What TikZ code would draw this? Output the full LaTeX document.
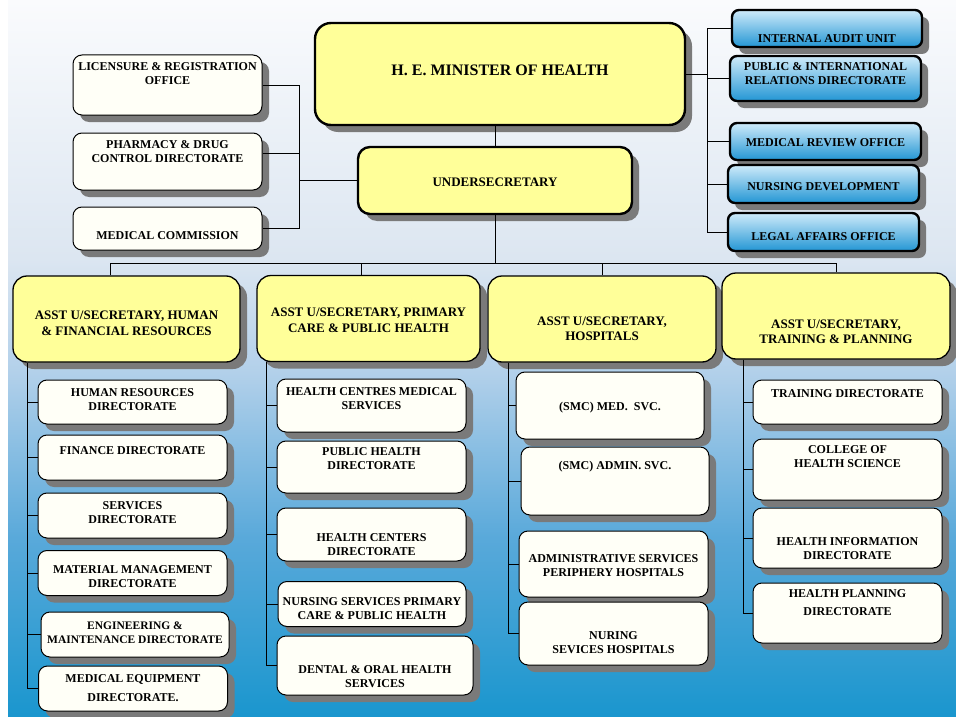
\documentclass[tikz,border=0pt]{standalone}
\usepackage{fontspec}
\setmainfont{Liberation Serif}
\usetikzlibrary{positioning,shadows}
\definecolor{orgSkyA}{HTML}{1A96CE}
\definecolor{orgSkyB}{HTML}{59A9DA}
\definecolor{orgSkyC}{HTML}{B2D0EA}
\definecolor{orgSkyD}{HTML}{DCE6F1}
\definecolor{orgSkyE}{HTML}{FAFBFD}
\definecolor{orgYel}{HTML}{FFFF99}
\definecolor{orgCrm}{HTML}{FFFFF7}
\definecolor{orgBlA}{HTML}{CFEBFA}
\definecolor{orgBlB}{HTML}{2396D4}
\pgfdeclareverticalshading{orgsky}{100bp}{color(0bp)=(orgSkyA); color(25bp)=(orgSkyA);
  color(37.5bp)=(orgSkyB); color(49bp)=(orgSkyC); color(57bp)=(orgSkyD);
  color(75bp)=(orgSkyE); color(100bp)=(orgSkyE)}
\tikzset{
  orgshadow/.style={drop shadow={shadow xshift=7pt, shadow yshift=-7pt, fill=black!52, opacity=1}},
  orgtop/.style={rectangle, rounded corners=16pt, draw=black, line width=2.4pt, fill=\orgYellow, orgshadow},
  orgasst/.style={rectangle, rounded corners=14pt, draw=black, line width=1.3pt, fill=\orgYellow, orgshadow},
  orgunit/.style={rectangle, rounded corners=9pt, draw=black, line width=1pt, fill=\orgCream, orgshadow},
  orgblue/.style={rectangle, rounded corners=7pt, draw=black, line width=2.4pt,
                  top color=\orgBlueTop, bottom color=\orgBlueLow, orgshadow},
  orglink/.style={draw=black, line width=0.9pt},
  orgtxt/.style={font=\bfseries\fontsize{12}{14}\selectfont, align=center, inner sep=0pt},
  orgtxtbig/.style={orgtxt, font=\bfseries\fontsize{13}{15.5}\selectfont},
  orgtitle/.style={orgtxt, font=\bfseries\fontsize{16}{19}\selectfont},
}
\newcommand{\orgYellow}{orgYel}
\newcommand{\orgCream}{orgCrm}
\newcommand{\orgBlueTop}{orgBlA}
\newcommand{\orgBlueLow}{orgBlB}

\begin{document}
\begin{tikzpicture}[x=1pt, y=-1pt]
  \useasboundingbox (0,0) rectangle (956,717);
  \fill[white] (0,0) rectangle (956,717);
  \shade[shading=orgsky] (8,0) rectangle (956,717);

  % minister and undersecretary
  \node[orgtop, minimum width=370, minimum height=102,
        label={[orgtitle, yshift=4pt]center:{H. E. MINISTER OF HEALTH}}] (minister) at (500,74) {};
  \node[orgtop, rounded corners=12pt, minimum width=274, minimum height=67,
        label={[orgtxtbig, yshift=-1.5pt]center:{UNDERSECRETARY}}] (under) at (495,180.5) {};

  % offices on the left
  \node[orgunit, minimum width=189, minimum height=60,
        label={[orgtxt, yshift=11pt]center:{LICENSURE \& REGISTRATION\\OFFICE}}] (licence) at (167.5,85) {};
  \node[orgunit, minimum width=189, minimum height=57,
        label={[orgtxt, yshift=9.5pt]center:{PHARMACY \& DRUG\\CONTROL DIRECTORATE}}] (pharmacy) at (167.5,161.5) {};
  \node[orgunit, minimum width=189, minimum height=43,
        label={[orgtxt, yshift=-7.5pt]center:{MEDICAL COMMISSION}}] (medcom) at (167.5,228.5) {};

  % units on the right
  \node[orgblue, minimum width=190, minimum height=37,
        label={[orgtxt, yshift=-10pt]center:{INTERNAL AUDIT UNIT}}] (audit) at (827,28.5) {};
  \node[orgblue, minimum width=191, minimum height=45,
        label={[orgtxt, yshift=4.5pt]center:{PUBLIC \& INTERNATIONAL\\RELATIONS DIRECTORATE}}] (pubrel) at (825.5,78.5) {};
  \node[orgblue, minimum width=191, minimum height=37,
        label={[orgtxt, yshift=-1pt]center:{MEDICAL REVIEW OFFICE}}] (review) at (825.5,141.5) {};
  \node[orgblue, minimum width=191, minimum height=38,
        label={[orgtxt, yshift=-3pt]center:{NURSING DEVELOPMENT}}] (nursdev) at (823.5,184) {};
  \node[orgblue, minimum width=191, minimum height=38,
        label={[orgtxt, yshift=-4.5pt]center:{LEGAL AFFAIRS OFFICE}}] (legal) at (823.5,232) {};

  % assistant undersecretaries
  \node[orgasst, minimum width=227, minimum height=86,
        label={[orgtxtbig, yshift=-4.5pt]center:{ASST U/SECRETARY, HUMAN\\\& FINANCIAL RESOURCES}}] (hrasst) at (126.5,319) {};
  \node[orgasst, minimum width=223, minimum height=86,
        label={[orgtxtbig, yshift=-2pt]center:{ASST U/SECRETARY, PRIMARY\\CARE \& PUBLIC HEALTH}}] (pcasst) at (368.5,318.5) {};
  \node[orgasst, minimum width=228, minimum height=86,
        label={[orgtxtbig, yshift=-10pt]center:{ASST U/SECRETARY,\\HOSPITALS}}] (hosasst) at (602,319) {};
  \node[orgasst, minimum width=228, minimum height=86,
        label={[orgtxtbig, yshift=-16pt]center:{ASST U/SECRETARY,\\TRAINING \& PLANNING}}] (tpasst) at (836,316) {};

  % human & financial resources
  \node[orgunit, minimum width=189, minimum height=44,
        label={[orgtxt, yshift=2pt]center:{HUMAN RESOURCES\\DIRECTORATE}}] (hr) at (132.5,402) {};
  \node[orgunit, minimum width=189, minimum height=45,
        label={[orgtxt, yshift=6.5pt]center:{FINANCE DIRECTORATE}}] (fin) at (132.5,457.5) {};
  \node[orgunit, minimum width=189, minimum height=45,
        label={[orgtxt, yshift=3pt]center:{SERVICES\\DIRECTORATE}}] (serv) at (132.5,515.5) {};
  \node[orgunit, minimum width=189, minimum height=45,
        label={[orgtxt, yshift=-3.5pt]center:{MATERIAL MANAGEMENT\\DIRECTORATE}}] (mat) at (132.5,573) {};
  \node[orgunit, minimum width=188, minimum height=45,
        label={[orgtxt, font=\bfseries\fontsize{11.5}{14}\selectfont, yshift=1.5pt]center:{ENGINEERING \&\\MAINTENANCE DIRECTORATE}}] (eng) at (135,634.5) {};
  \node[orgunit, minimum width=189, minimum height=45,
        label={[orgtxt]center:{MEDICAL EQUIPMENT\\[5pt]DIRECTORATE.}}] (medeq) at (133,688.5) {};

  % primary care & public health
  \node[orgunit, minimum width=189, minimum height=53,
        label={[orgtxt, yshift=6.5pt]center:{HEALTH CENTRES MEDICAL\\SERVICES}}] (hcms) at (371.5,405.5) {};
  \node[orgunit, minimum width=189, minimum height=52,
        label={[orgtxt, yshift=8pt]center:{PUBLIC HEALTH\\DIRECTORATE}}] (pubh) at (371.5,467) {};
  \node[orgunit, minimum width=189, minimum height=53,
        label={[orgtxt, yshift=-10pt]center:{HEALTH CENTERS\\DIRECTORATE}}] (hcent) at (371.5,534.5) {};
  \node[orgunit, minimum width=188, minimum height=45,
        label={[orgtxt, yshift=-5pt]center:{NURSING SERVICES PRIMARY\\CARE \& PUBLIC HEALTH}}] (nurssvc) at (372,604) {};
  \node[orgunit, minimum width=196, minimum height=59,
        label={[orgtxt, yshift=-11pt]center:{DENTAL \& ORAL HEALTH\\SERVICES}}] (dental) at (375,665.5) {};

  % hospitals
  \node[orgunit, minimum width=188, minimum height=67,
        label={[orgtxt, yshift=-2pt]center:{(SMC) MED.\ \ SVC.}}] (smcmed) at (610,405.5) {};
  \node[orgunit, minimum width=188, minimum height=68,
        label={[orgtxt, yshift=14pt]center:{(SMC) ADMIN. SVC.}}] (smcadm) at (615,481) {};
  \node[orgunit, minimum width=189, minimum height=66,
        label={[orgtxt, yshift=-2pt]center:{ADMINISTRATIVE SERVICES\\PERIPHERY HOSPITALS}}] (adminsvc) at (613.5,564) {};
  \node[orgunit, minimum width=189, minimum height=63,
        label={[orgtxt, yshift=-9.5pt]center:{NURING\\SEVICES HOSPITALS}}] (nuring) at (613.5,633.5) {};

  % training & planning
  \node[orgunit, minimum width=189, minimum height=44,
        label={[orgtxt, yshift=8pt]center:{TRAINING DIRECTORATE}}] (training) at (847.5,402) {};
  \node[orgunit, minimum width=189, minimum height=61,
        label={[orgtxt, yshift=12.5pt]center:{COLLEGE OF\\HEALTH SCIENCE}}] (college) at (847.5,469.5) {};
  \node[orgunit, minimum width=189, minimum height=60,
        label={[orgtxt, yshift=-11pt]center:{HEALTH INFORMATION\\DIRECTORATE}}] (hinfo) at (847.5,538) {};
  \node[orgunit, minimum width=189, minimum height=60,
        label={[orgtxt, yshift=10pt]center:{HEALTH PLANNING\\[4pt]DIRECTORATE}}] (hplan) at (847.5,613) {};

  % connectors
  \coordinate (lbar) at (299,0);
  \coordinate (rbar) at (707,0);
  \coordinate (hbar) at (0,263);
  \coordinate (c1) at (27,0);
  \coordinate (c2) at (266,0);
  \coordinate (c3) at (508,0);
  \coordinate (c4) at (743,0);

  \draw[orglink] (under.north |- minister.south) -- (under.north);
  \draw[orglink] (licence.east) -- (licence.east -| lbar) -- (medcom.east -| lbar) -- (medcom.east);
  \draw[orglink] ([yshift=8pt]pharmacy.east) -- ([yshift=8pt]pharmacy.east -| lbar);
  \draw[orglink] (under.west) -- (under.west -| lbar);
  \draw[orglink] (audit.west) -- (audit.west -| rbar) -- (legal.west -| rbar) -- (legal.west);
  \foreach \n in {pubrel,review,nursdev}
    \draw[orglink] (\n.west -| rbar) -- (\n.west);
  \draw[orglink] (minister.east) -- (minister.east -| rbar);

  \draw[orglink] (under.south) -- (under.south |- hbar);
  \draw[orglink] ([xshift=-16pt]hrasst.north) |- (tpasst.north |- hbar) -- (tpasst.north);
  \draw[orglink] ([xshift=-7pt]pcasst.north) -- ([xshift=-7pt]pcasst.north |- hbar);
  \draw[orglink] (hosasst.north) -- (hosasst.north |- hbar);

  \draw[orglink] (c1 |- hrasst.south) -- (c1 |- medeq.west);
  \foreach \n in {hr,fin,serv,mat,eng,medeq}
    \draw[orglink] (\n.west -| c1) -- (\n.west);
  \draw[orglink] (c2 |- pcasst.south) -- (c2 |- dental.west);
  \foreach \n in {hcms,pubh,hcent,nurssvc,dental}
    \draw[orglink] (\n.west -| c2) -- (\n.west);
  \draw[orglink] (c3 |- hosasst.south) -- (c3 |- nuring.west);
  \foreach \n in {smcmed,smcadm,adminsvc,nuring}
    \draw[orglink] (\n.west -| c3) -- (\n.west);
  \draw[orglink] (c4 |- tpasst.south) -- (c4 |- hplan.west);
  \foreach \n in {training,college,hinfo,hplan}
    \draw[orglink] (\n.west -| c4) -- (\n.west);
\end{tikzpicture}
\end{document}
